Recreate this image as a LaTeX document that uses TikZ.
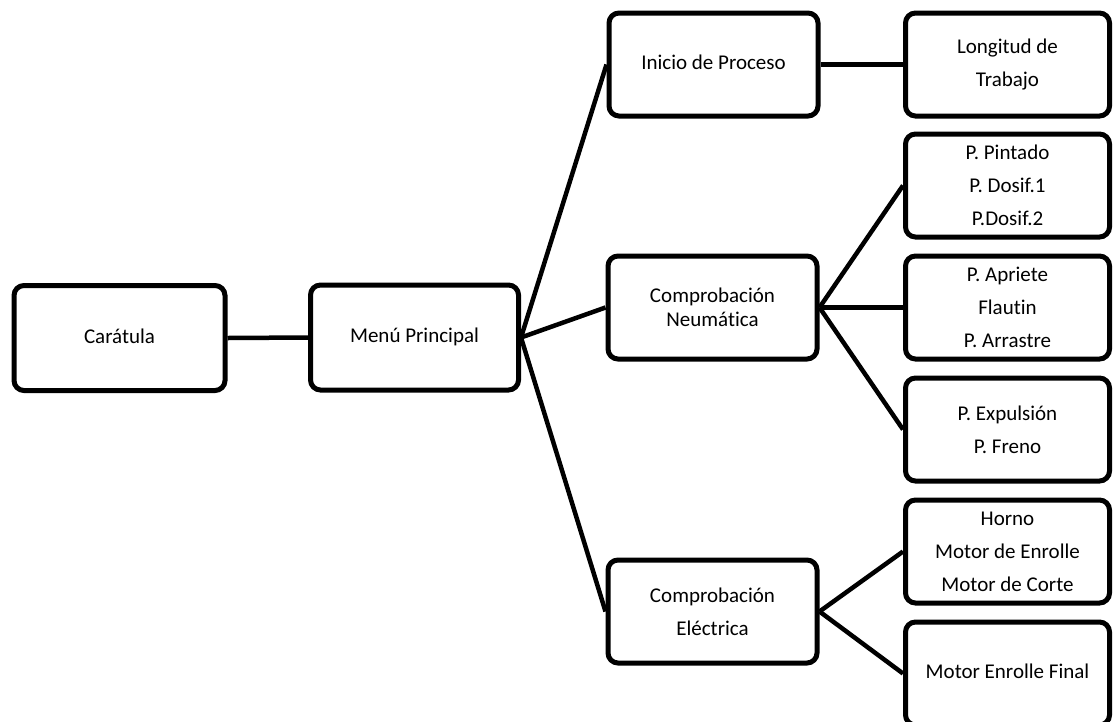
\documentclass[tikz,border=0pt]{standalone}
\usepackage{fontspec}
\setmainfont{Carlito}[Ligatures=NoCommon]
\begin{document}
\begin{tikzpicture}[x=1pt,y=-1pt,
  box/.style={draw=black, line width=5pt, rounded corners=10pt, fill=white,
    minimum width=209pt, minimum height=103pt, inner sep=0pt, align=center,
    font=\fontsize{21}{33}\selectfont},
  one/.style={text height=15pt, text depth=5pt},
  link/.style={line width=4.5pt, draw=black}]
\useasboundingbox (0,0) rectangle (1113,721);
\clip (0,0) rectangle (1113,721);
\node[box, one, minimum width=211pt, minimum height=105pt] (car) at (119.5,338) {Carátula};
\node[box, one, minimum width=208pt, minimum height=105pt] (menu) at (414.5,337.5) {Menú Principal};
\node[box, one] (inicio) at (713.5,64.5) {Inicio de Proceso};
\node[box, font=\fontsize{21}{24}\selectfont] (neum) at (712.5,307.5) {Comprobación\\Neumática};
\node[box] (elec) at (712.5,611.5) {Comprobación\\Eléctrica};
\node[box, minimum width=204pt] (long) at (1007.5,64.5) {Longitud de\\Trabajo};
\node[box, minimum width=204pt] (pint) at (1007.5,185.5) {P. Pintado\\P. Dosif.1\\P.Dosif.2};
\node[box, minimum width=204pt] (apri) at (1007.5,307.5) {P. Apriete\\Flautin\\P. Arrastre};
\node[box, minimum width=204pt] (expu) at (1007.5,429.5) {P. Expulsión\\P. Freno};
\node[box, minimum width=204pt] (horno) at (1007.5,551.5) {Horno\\Motor de Enrolle\\Motor de Corte};
\node[box, one, minimum width=204pt] (final) at (1007.5,673.5) {Motor Enrolle Final};
\draw[link] (car.east) -- (menu.west);
\draw[link] (menu.east) -- (inicio.west);
\draw[link] (menu.east) -- (neum.west);
\draw[link] (menu.east) -- (elec.west);
\draw[link] (inicio.east) -- (long.west);
\draw[link] (neum.east) -- (pint.west);
\draw[link] (neum.east) -- (apri.west);
\draw[link] (neum.east) -- (expu.west);
\draw[link] (elec.east) -- (horno.west);
\draw[link] (elec.east) -- (final.west);
\end{tikzpicture}
\end{document}
